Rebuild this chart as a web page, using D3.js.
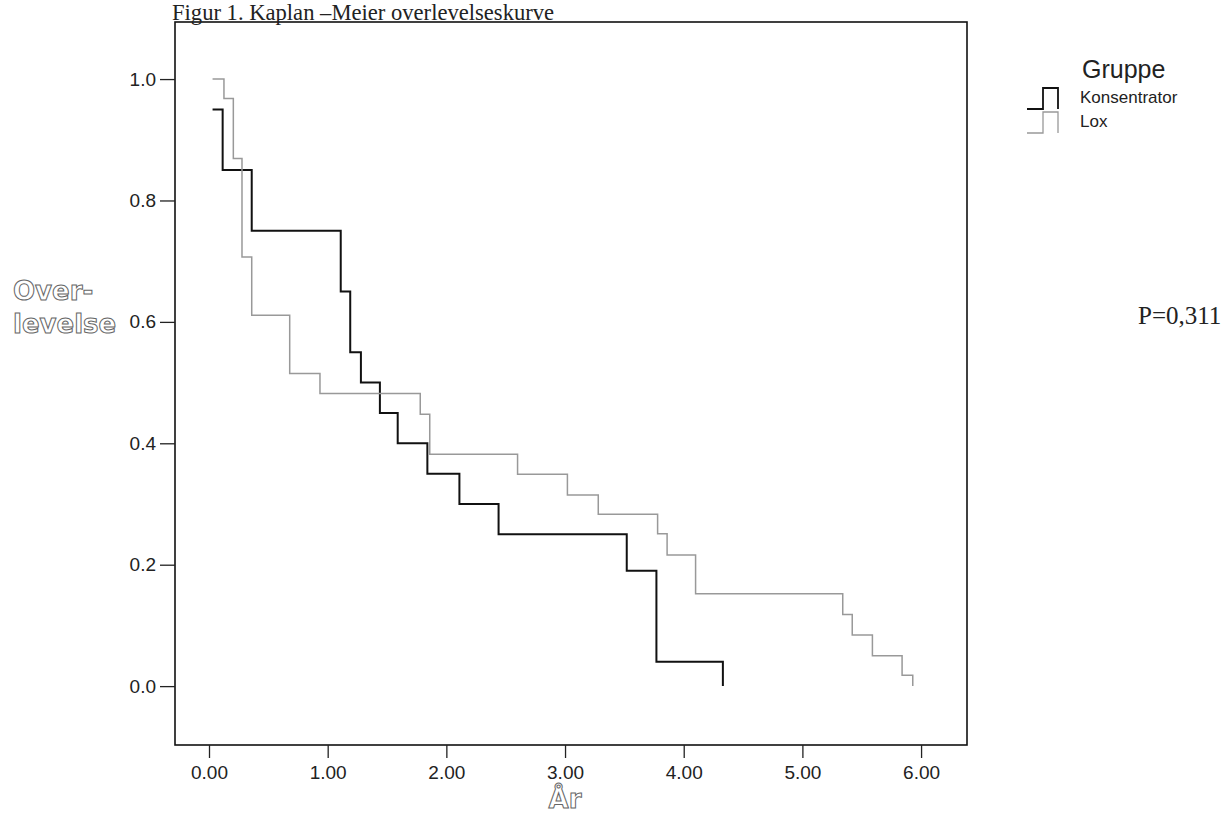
<!DOCTYPE html>
<html>
<head>
<meta charset="utf-8">
<script src="https://cdn.jsdelivr.net/npm/d3@7/dist/d3.min.js"></script>
<style>
  body { margin: 0; background: #fff; }
  svg { display: block; }
</style>
</head>
<body>
<svg id="chart" width="1231" height="813"></svg>
<script>
// survival steps: line starts at first time, then drops at each later time
var konsTime = [0.03, 0.115, 0.36, 1.11, 1.19, 1.28, 1.44, 1.59, 1.84, 2.11, 2.44, 3.52, 3.77, 4.33]
var konsSurv = [0.95, 0.85, 0.75, 0.65, 0.55, 0.50, 0.45, 0.40, 0.35, 0.30, 0.25, 0.19, 0.04, 0.0]

var loxTime = [0.03, 0.126, 0.205, 0.278, 0.36, 0.68, 0.935, 1.78, 1.86, 2.60, 3.02, 3.28, 3.78, 3.86, 4.10, 5.34, 5.42, 5.59, 5.84, 5.93]
var loxSurv = [1.0, 0.968, 0.869, 0.707, 0.611, 0.515, 0.482, 0.448, 0.382, 0.349, 0.315, 0.283, 0.251, 0.216, 0.152, 0.118, 0.084, 0.050, 0.018, 0.0]

var groups = ['Konsentrator', 'Lox']
var groupColors = ['#111', '#999']
var xTicks = [0, 1, 2, 3, 4, 5, 6]
var yTicks = [0, 0.2, 0.4, 0.6, 0.8, 1.0]

var svg = d3.select('#chart')

var x = d3.scaleLinear().domain([-0.2865, 6.387]).range([175, 967])
var y = d3.scaleLinear().domain([-0.097, 1.094]).range([745, 22])

// frame
svg.append('rect')
  .attr('x', x.range()[0])
  .attr('y', y.range()[1])
  .attr('width', x.range()[1] - x.range()[0])
  .attr('height', y.range()[0] - y.range()[1])
  .attr('fill', 'none')
  .attr('stroke', '#111')
  .attr('stroke-width', 1.6)

var xAxis = svg.append('g')
  .attr('transform', 'translate(0,' + y.range()[0] + ')')
  .call(d3.axisBottom(x).tickValues(xTicks).tickSize(13).tickPadding(8).tickFormat(d3.format('.2f')))
xAxis.select('.domain').remove()

var yAxis = svg.append('g')
  .attr('transform', 'translate(' + x.range()[0] + ',0)')
  .call(d3.axisLeft(y).tickValues(yTicks).tickSize(15).tickPadding(4).tickFormat(d3.format('.1f')))
yAxis.select('.domain').remove()

svg.selectAll('.tick line').attr('stroke', '#222').attr('stroke-width', 1.3)
svg.selectAll('.tick text')
  .attr('font-family', '"Liberation Sans", Arial, sans-serif')
  .attr('font-size', '19px')
  .attr('fill', '#222')

// step curves
function steps (times, surv) {
  var pts = [[times[0], surv[0]]]
  for (var i = 1; i < times.length; i++) {
    pts.push([times[i], surv[i - 1]])
    pts.push([times[i], surv[i]])
  }
  return pts
}

var line = d3.line()
  .x(function (d) { return x(d[0]) })
  .y(function (d) { return y(d[1]) })

var series = [steps(konsTime, konsSurv), steps(loxTime, loxSurv)]

svg.selectAll('path.km')
  .data(series)
  .enter().append('path')
  .attr('class', 'km')
  .attr('d', line)
  .attr('fill', 'none')
  .attr('stroke', function (d, i) { return groupColors[i] })
  .attr('stroke-width', function (d, i) { return i === 0 ? 2 : 1.5 })

// title
svg.append('text')
  .attr('x', 172)
  .attr('y', 20)
  .attr('font-family', '"Liberation Serif", "Times New Roman", serif')
  .attr('font-size', '22.6px')
  .attr('fill', '#222')
  .text('Figur 1. Kaplan \u2013Meier overlevelseskurve')

// outlined axis titles
var outline = function (sel) {
  sel.attr('font-family', '"DejaVu Sans", sans-serif')
    .attr('font-weight', 'bold')
    .attr('font-size', '26px')
    .attr('fill', '#fff')
    .attr('stroke', '#666')
    .attr('stroke-width', 1)
}
svg.append('text').attr('x', 13).attr('y', 300).text('Over-').call(outline)
svg.append('text').attr('x', 13).attr('y', 333).text('levelse').call(outline)
svg.append('text').attr('x', x(3)).attr('y', 808).attr('text-anchor', 'middle').text('\u00c5r').call(outline)

// legend
svg.append('text')
  .attr('x', 1082)
  .attr('y', 78)
  .attr('font-family', '"Liberation Sans", Arial, sans-serif')
  .attr('font-size', '25px')
  .attr('fill', '#222')
  .text('Gruppe')

var legend = svg.selectAll('g.leg')
  .data(groups)
  .enter().append('g')
  .attr('class', 'leg')
  .attr('transform', function (d, i) { return 'translate(1027,' + (88 + i * 24) + ')' })

legend.append('path')
  .attr('d', 'M0,21H16V0H31V21')
  .attr('fill', 'none')
  .attr('stroke', function (d, i) { return groupColors[i] })
  .attr('stroke-width', function (d, i) { return i === 0 ? 1.8 : 1.3 })

legend.append('text')
  .attr('x', 53)
  .attr('y', 15)
  .attr('font-family', '"Liberation Sans", Arial, sans-serif')
  .attr('font-size', '17px')
  .attr('fill', '#222')
  .text(function (d) { return d })

svg.append('text')
  .attr('x', 1138)
  .attr('y', 324)
  .attr('font-family', '"Liberation Serif", "Times New Roman", serif')
  .attr('font-size', '25px')
  .attr('fill', '#222')
  .text('P=0,311')
</script>
</body>
</html>
